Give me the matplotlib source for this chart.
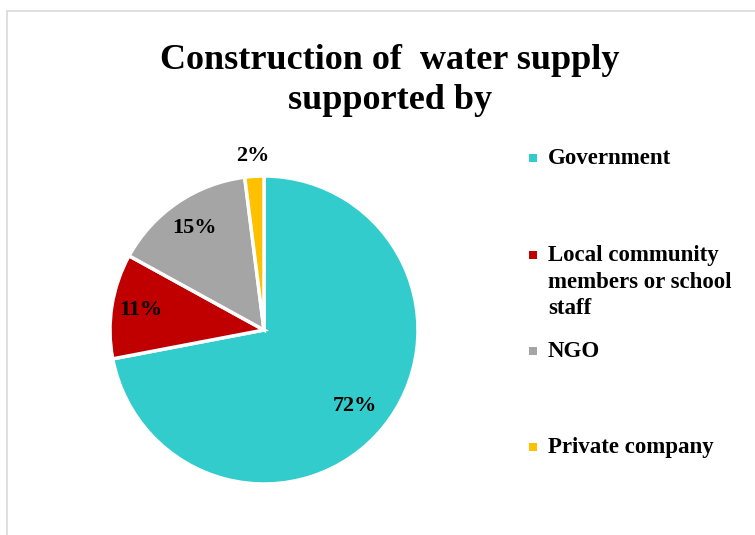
import numpy as np
import matplotlib.pyplot as plt
from matplotlib.patches import Rectangle

categories = ['Government', 'Local community\nmembers or school\nstaff', 'NGO', 'Private company']
shares = [72, 11, 15, 2]
colors = ['#33CCCC', '#C00000', '#A5A5A5', '#FFC000']
label_dist = [0.77, 0.81, 0.80, 1.13]
title_lines = ['Construction of  water supply', 'supported by']

plt.rcParams['font.family'] = ['Liberation Serif', 'DejaVu Serif']
plt.rcParams['font.weight'] = 'bold'

W, H = 755, 535
fig = plt.figure(figsize=(W / 100, H / 100), dpi=100)

# chart frame (left/top edges visible, rest runs off the picture)
fig.patches.append(Rectangle((7 / W, -0.1), 1.2, (535 - 11) / H + 0.1, transform=fig.transFigure,
                             fill=False, edgecolor='#D9D9D9', linewidth=1.2))

cx, cy, r = 264, 535 - 330, 154
ax = fig.add_axes([(cx - r) / W, (cy - r) / H, 2 * r / W, 2 * r / H])
wedges, _ = ax.pie(shares, colors=colors, startangle=90, counterclock=False, radius=1,
                   wedgeprops=dict(edgecolor='white', linewidth=2.5))
ax.set_xlim(-1, 1)
ax.set_ylim(-1, 1)
ax.set_aspect('equal')
ax.axis('off')

for w, s, d in zip(wedges, shares, label_dist):
    ang = np.deg2rad((w.theta1 + w.theta2) / 2)
    ax.text(d * np.cos(ang), d * np.sin(ang), f'{s}%', ha='center', va='center',
            fontsize=16, fontweight='bold', clip_on=False)

for line, yb in zip(title_lines, [69, 109]):
    fig.text(390 / W, 1 - yb / H, line, ha='center', va='baseline', fontsize=26, fontweight='bold')

ys = [158, 255, 351, 447]
for name, c, y in zip(categories, colors, ys):
    fig.patches.append(Rectangle(((533 - 4) / W, 1 - (y + 4) / H), 8 / W, 8 / H,
                                 transform=fig.transFigure, facecolor=c, edgecolor='none'))
    for i, part in enumerate(name.split('\n')):
        fig.text(548 / W, 1 - (y + 6 + 26.5 * i) / H, part, ha='left', va='baseline',
                 fontsize=16.5, fontweight='bold')

fig.savefig('out.png', dpi=100)
